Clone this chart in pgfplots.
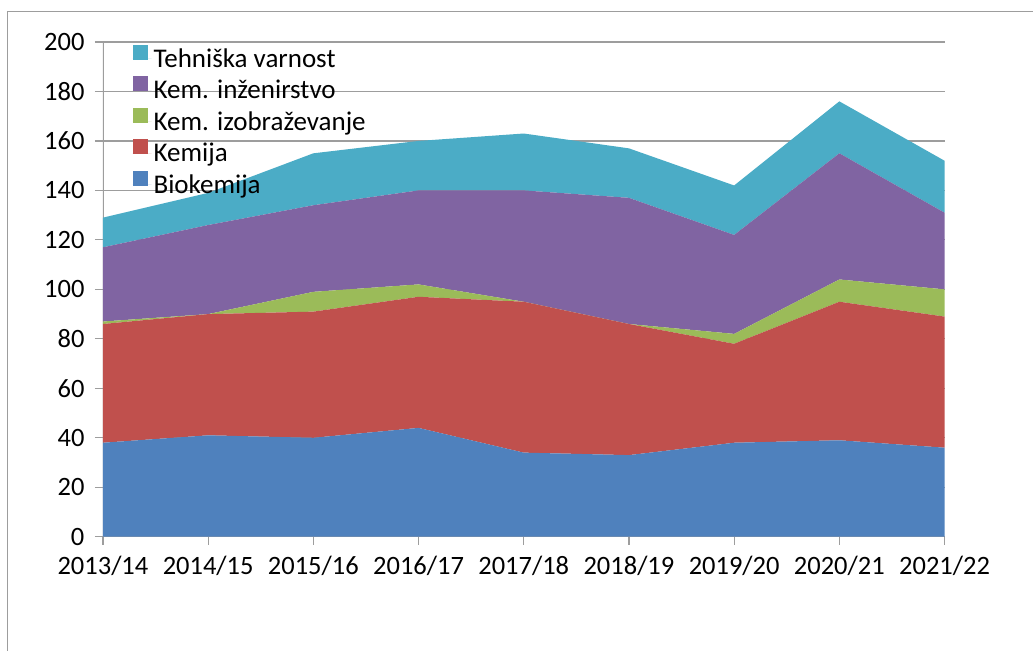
\documentclass[border=0pt]{standalone}
\usepackage{fontspec}
\setmainfont{Carlito}
\usepackage{pgfplots}
\usepackage{pgfplotstable}
\pgfplotsset{compat=1.18}

\definecolor{cbio}{HTML}{4F81BD}
\definecolor{ckem}{HTML}{C0504D}
\definecolor{cizo}{HTML}{9BBB59}
\definecolor{cinz}{HTML}{8064A2}
\definecolor{cteh}{HTML}{4BACC6}
\definecolor{cgrid}{HTML}{9D9D9D}

% enrolment per study programme, stacked
\pgfplotstableread{
x bio kem izo inz teh
0 38 48  1 30 12
1 41 49  0 36 13
2 40 51  8 35 21
3 44 53  5 38 20
4 34 61  0 45 23
5 33 53  0 51 20
6 38 40  4 40 20
7 39 56  9 51 21
8 36 53 11 31 21
}\data

\begin{document}
\begin{tikzpicture}[x=1pt,y=1pt]
% outer chart frame (only top and left edges are inside the picture)
\draw[cgrid, line width=1pt] (-95,-114) -- (-95,525) -- (930,525);
\begin{axis}[
  at={(0,0)}, anchor=south west,
  scale only axis,
  width=842pt, height=495pt,
  xmin=0, xmax=8,
  ymin=0, ymax=200,
  xtick={0,...,8},
  xticklabels={2013/14,2014/15,2015/16,2016/17,2017/18,2018/19,2019/20,2020/21,2021/22},
  ytick={0,20,...,200},
  stack plots=y,
  ymajorgrids,
  grid style={cgrid, line width=1.2pt},
  axis line style={draw=none},
  xtick pos=left,
  ytick pos=left,
  tick align=outside,
  major tick length=8pt,
  tick style={cgrid, line width=1.2pt},
  tick label style={font=\fontsize{26.5}{30}\selectfont},
  yticklabel style={xshift=-7pt},
  xticklabel style={yshift=-8pt},
  /pgf/number format/assume math mode=true,
  reverse legend,
  legend cell align=left,
  legend style={
    at={(0.035,0.995)}, anchor=north west,
    draw=none, fill=none,
    font=\fontsize{27}{30}\selectfont,
    row sep=5.5pt,
    inner sep=0pt,
  },
  legend image code/.code={%
    \fill[#1] (0pt,-1pt) rectangle (15pt,14pt);
    \path (0pt,0pt) -- (19pt,0pt);},
]
\addplot[draw=none, fill=cbio] table[x=x, y=bio] {\data} \closedcycle;
\addlegendentry{Biokemija}
\addplot[draw=none, fill=ckem] table[x=x, y=kem] {\data} \closedcycle;
\addlegendentry{Kemija}
\addplot[draw=none, fill=cizo] table[x=x, y=izo] {\data} \closedcycle;
\addlegendentry{Kem. izobraževanje}
\addplot[draw=none, fill=cinz] table[x=x, y=inz] {\data} \closedcycle;
\addlegendentry{Kem. inženirstvo}
\addplot[draw=none, fill=cteh] table[x=x, y=teh] {\data} \closedcycle;
\addlegendentry{Tehniška varnost}
% left and bottom axis lines on top of the areas
\draw[cgrid, line width=1.2pt] (rel axis cs:0,1) -- (rel axis cs:0,0) -- (rel axis cs:1,0);
\end{axis}
\useasboundingbox (-103,-114) rectangle (930,537);
\end{tikzpicture}
\end{document}
